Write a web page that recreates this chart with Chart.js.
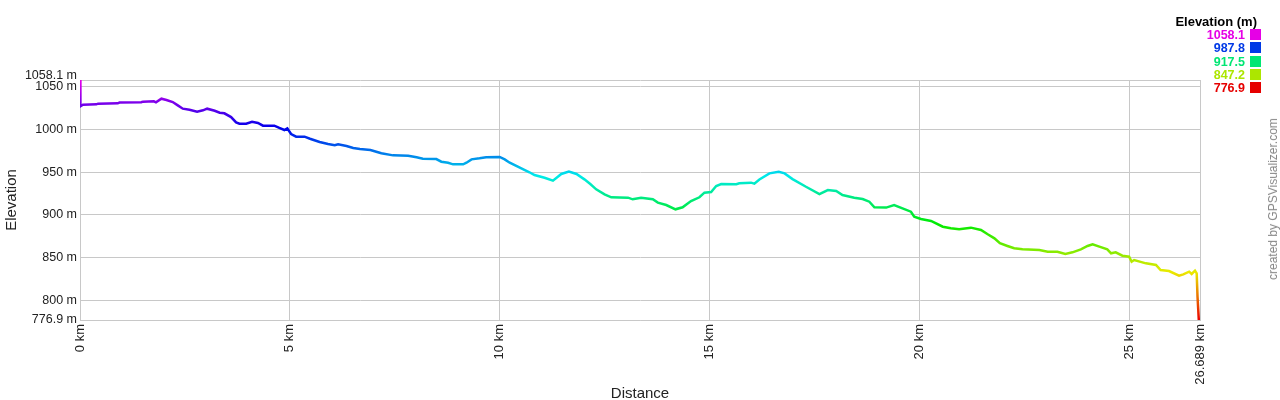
<!DOCTYPE html>
<html>
<head>
<meta charset="utf-8">
<script src="https://cdn.jsdelivr.net/npm/chart.js@4"></script>
<style>
  html, body { margin: 0; padding: 0; background: #fff; }
  #wrap { position: relative; width: 1280px; height: 400px; font-family: "Liberation Sans", Arial, sans-serif; }
  #legend { position: absolute; right: 19px; top: 15px; text-align: right; font-weight: bold; font-size: 12.5px; line-height: 13.2px; }
  #legend .head { color: #000; font-size: 13px; margin-right: 4px; margin-bottom: 1px; }
  #legend .sw { display: inline-block; width: 11px; height: 11px; margin-left: 5px; vertical-align: -1px; }
  #credit { position: absolute; left: 1273px; top: 199px; transform: translate(-50%, -50%) rotate(-90deg); white-space: nowrap; font-size: 12px; color: #888; }
</style>
</head>
<body>
<div id="wrap">
  <canvas id="chartCanvas" width="1280" height="400"></canvas>
  <div id="legend"></div>
  <div id="credit">created by GPSVisualizer.com</div>
</div>
<script>
// Profil-Daten (km / m)
const distanz = [0, 0.01, 0.07, 0.39, 0.43, 0.9, 0.94, 1.46, 1.5, 1.76, 1.81, 1.94, 2.06, 2.21, 2.33, 2.45, 2.61, 2.79, 2.93, 3.03,
  3.21, 3.33, 3.44, 3.6, 3.72, 3.8, 3.96, 4.1, 4.24, 4.36, 4.63, 4.75, 4.87, 4.94, 5.03, 5.15, 5.35, 5.48, 5.71, 5.91,
  6.07, 6.15, 6.35, 6.51, 6.67, 6.92, 7.06, 7.18, 7.46, 7.82, 8.02, 8.17, 8.49, 8.61, 8.77, 8.89, 9.13, 9.21, 9.33, 9.52,
  9.68, 10.0, 10.12, 10.24, 10.48, 10.71, 10.83, 11.07, 11.27, 11.47, 11.65, 11.83, 12.02, 12.16, 12.3, 12.5, 12.66, 13.06, 13.17, 13.37,
  13.65, 13.77, 13.97, 14.19, 14.36, 14.56, 14.76, 14.88, 15.04, 15.16, 15.28, 15.64, 15.71, 15.99, 16.07, 16.19, 16.43, 16.65, 16.79, 16.98,
  17.3, 17.62, 17.82, 18.02, 18.17, 18.45, 18.65, 18.81, 18.93, 19.21, 19.4, 19.6, 19.8, 19.88, 20.04, 20.28, 20.56, 20.75, 20.95, 21.23,
  21.47, 21.63, 21.79, 21.92, 22.1, 22.26, 22.46, 22.86, 23.06, 23.29, 23.48, 23.65, 23.85, 24.01, 24.13, 24.29, 24.48, 24.57, 24.68, 24.84,
  25.0, 25.06, 25.12, 25.4, 25.64, 25.75, 25.95, 26.19, 26.29, 26.43, 26.49, 26.57, 26.61, 26.63, 26.66, 26.689];
const hoehe = [1058.1, 1027.3, 1029.2, 1029.6, 1030.4, 1030.8, 1031.6, 1032.0, 1032.7, 1033.1, 1032.0, 1036.2, 1034.7, 1032.3, 1028.4, 1024.5, 1023.3, 1020.9, 1022.6, 1024.5,
  1022.1, 1019.8, 1019.1, 1014.7, 1008.5, 1006.9, 1006.9, 1009.2, 1007.7, 1004.6, 1004.6, 1001.9, 999.5, 1001.5, 994.8, 991.7, 991.7, 989.3, 985.5, 983.1,
  981.6, 982.8, 980.8, 978.4, 977.3, 976.1, 974.1, 972.2, 969.8, 969.4, 967.5, 965.9, 965.5, 962.4, 961.2, 959.3, 959.3, 961.2, 965.1, 966.3,
  967.5, 967.9, 965.1, 961.2, 955.4, 950.0, 946.8, 943.6, 940.1, 948.0, 950.7, 948.0, 941.7, 936.2, 930.0, 924.2, 920.7, 920.2, 918.3, 920.2,
  918.3, 914.4, 911.6, 906.6, 909.0, 916.3, 920.7, 926.1, 926.9, 933.9, 936.2, 935.9, 937.0, 937.8, 936.6, 941.5, 948.7, 950.6, 948.7, 942.0,
  933.0, 924.5, 929.2, 928.0, 923.3, 920.2, 918.7, 915.5, 909.0, 908.6, 911.6, 907.7, 903.8, 897.9, 895.2, 892.9, 886.2, 884.3, 883.2, 885.1,
  882.3, 877.3, 872.6, 866.8, 863.6, 860.9, 859.7, 858.9, 856.9, 856.9, 854.2, 856.2, 859.7, 863.6, 865.6, 862.8, 859.7, 855.0, 856.2, 852.2,
  851.0, 845.2, 847.2, 843.3, 841.4, 835.5, 834.3, 828.8, 830.4, 833.5, 830.8, 834.7, 831.6, 804.2, 777.7, 776.9];

const yTicks = [776.9, 800, 850, 900, 950, 1000, 1050, 1058.1];
const xTicks = [0, 5, 10, 15, 20, 25, 26.689];
const legendWerte = [1058.1, 987.8, 917.5, 847.2, 776.9];

const yMin = 776.9, yMax = 1058.1;
const xMax = 26.689;

// Farbe nach Höhe: rot (unten) bis magenta (oben)
function farbe(h, l) {
  const hue = 300 * (h - yMin) / (yMax - yMin);
  return `hsl(${hue.toFixed(0)},100%,${l}%)`;
}

// Legende
const legendDiv = document.getElementById("legend");
let html = '<div class="head">Elevation (m)</div>';
legendWerte.forEach(w => {
  html += `<div class="row" style="color:${farbe(w, 45)}">${w.toFixed(1)}<span class="sw" style="background:${farbe(w, 45)}"></span></div>`;
});
legendDiv.innerHTML = html;

const punkte = distanz.map((d, i) => ({ x: d, y: hoehe[i] }));
const gridFarbe = '#c8c8c8';
const fam = '"Liberation Sans", Arial, sans-serif';

const ctx = document.getElementById('chartCanvas').getContext('2d');
new Chart(ctx, {
  type: 'line',
  data: {
    datasets: [{
      data: punkte,
      borderWidth: 2.5,
      pointRadius: 0,
      tension: 0,
      borderColor: function(context) {
        const chart = context.chart;
        if (!chart.chartArea) return '#00f';
        const y = chart.scales.y;
        const top = y.getPixelForValue(yMax), bottom = y.getPixelForValue(yMin);
        const g = chart.ctx.createLinearGradient(0, bottom, 0, top);
        for (let i = 0; i <= 10; i++) {
          g.addColorStop(i / 10, `hsl(${i * 30},100%,46%)`);
        }
        return g;
      }
    }]
  },
  options: {
    responsive: false,
    devicePixelRatio: 1,
    animation: false,
    layout: { padding: { left: 0, top: 80, right: 80, bottom: 0 } },
    plugins: { legend: { display: false }, tooltip: { enabled: false } },
    scales: {
      x: {
        type: 'linear',
        min: 0,
        max: xMax,
        afterBuildTicks: axis => { axis.ticks = xTicks.map(v => ({ value: v })); },
        afterFit: axis => { axis.height = 80; },
        grid: { color: gridFarbe, drawTicks: false },
        border: { color: gridFarbe },
        ticks: {
          autoSkip: false,
          minRotation: 90,
          maxRotation: 90,
          padding: 4,
          color: '#222',
          font: { family: fam, size: 13 },
          callback: v => v + ' km'
        },
        title: { display: true, text: 'Distance', color: '#222', font: { family: fam, size: 15 }, padding: { top: 0, bottom: -3 } }
      },
      y: {
        min: yMin,
        max: yMax,
        afterBuildTicks: axis => { axis.ticks = yTicks.map(v => ({ value: v })); },
        afterFit: axis => { axis.width = 80; },
        grid: { color: gridFarbe, drawTicks: false },
        border: { color: gridFarbe },
        ticks: {
          autoSkip: false,
          padding: 3,
          color: '#222',
          font: { family: fam, size: 12.5, lineHeight: 0.75 },
          callback: v => v === yMax ? [v + ' m', ''] : v + ' m'
        },
        title: { display: true, text: 'Elevation', color: '#222', font: { family: fam, size: 15 }, padding: { top: 3, bottom: 0 } }
      }
    }
  }
});
</script>
</body>
</html>
